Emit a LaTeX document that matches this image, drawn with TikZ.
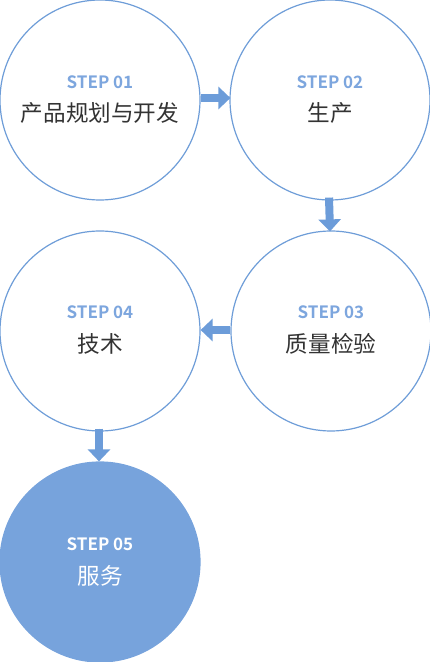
\documentclass[tikz,border=0pt]{standalone}
\usepackage{fontspec}
\setmainfont{Noto Sans CJK SC}
\newfontfamily\cjkbold{Noto Sans CJK SC Bold}
\usetikzlibrary{arrows.meta}
\definecolor{ringblue}{HTML}{6E9DD8}
\definecolor{fillblue}{HTML}{77A3DC}
\definecolor{arrowblue}{HTML}{6C9CD9}
\definecolor{steptext}{HTML}{7DA6DE}
\definecolor{darktext}{HTML}{333333}
\tikzset{
  stepcircle/.style={circle, draw=ringblue, line width=1.2pt, minimum size=200pt, inner sep=0pt, fill=white},
  stepcirclefilled/.style={stepcircle, fill=fillblue, draw=fillblue},
  steplabel/.style={font=\cjkbold\fontsize{17}{19}\selectfont, text=steptext, inner sep=0pt},
  stepname/.style={font=\fontsize{22.6}{24}\selectfont, text=darktext, inner sep=0pt},
  blockarrow/.style={draw=arrowblue, fill=arrowblue, line width=8pt, -{Triangle[width=22pt,length=12pt]}}
}
\begin{document}
\begin{tikzpicture}[x=1pt,y=1pt]
\useasboundingbox (0,0) rectangle (430,662);
\node[stepcircle] (c1) at (100,562) {};
\node[stepcircle] (c2) at (330,562) {};
\node[stepcircle] (c3) at (331,331) {};
\node[stepcircle] (c4) at (100,331) {};
\node[stepcirclefilled] (c5) at (100,100) {};

\node[steplabel] (s1) at ([yshift=18pt]c1.center) {STEP 01};
\node[stepname] (n1) at ([yshift=-13pt]c1.center) {产品规划与开发};
\node[steplabel] (s2) at ([yshift=18pt]c2.center) {STEP 02};
\node[stepname] (n2) at ([yshift=-13pt]c2.center) {生产};
\node[steplabel] (s3) at ([yshift=19pt]c3.center) {STEP 03};
\node[stepname] (n3) at ([yshift=-13pt]c3.center) {质量检验};
\node[steplabel] (s4) at ([yshift=19pt]c4.center) {STEP 04};
\node[stepname] (n4) at ([yshift=-13pt]c4.center) {技术};
\node[steplabel, text=white] (s5) at ([yshift=18pt]c5.center) {STEP 05};
\node[stepname, text=white] (n5) at ([yshift=-14pt]c5.center) {服务};

\draw[blockarrow] ([yshift=2pt]c1.east) -- ([xshift=1pt,yshift=2pt]c2.west);
\draw[blockarrow] ([xshift=-1pt,yshift=3pt]c2.south) -- ([xshift=-1pt,yshift=-1pt]c3.north);
\draw[blockarrow] ([yshift=1pt]c3.west) -- ([yshift=1pt]c4.east);
\draw[blockarrow] ([xshift=-1pt,yshift=3pt]c4.south) -- ([xshift=-1pt]c5.north);
\end{tikzpicture}
\end{document}
